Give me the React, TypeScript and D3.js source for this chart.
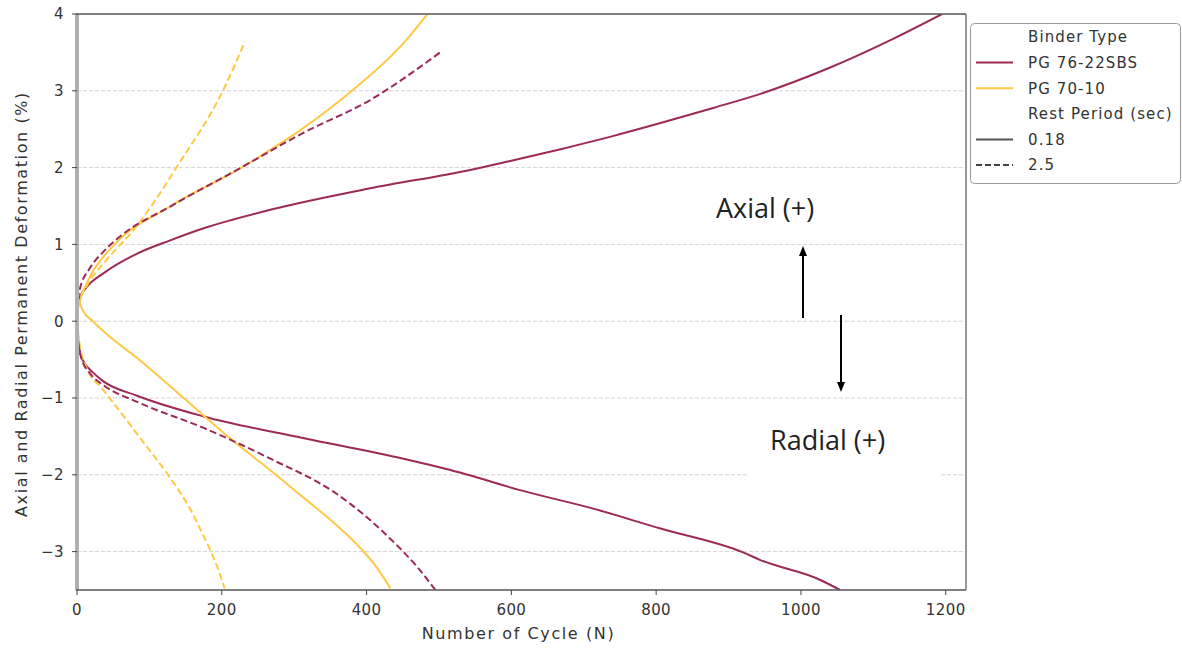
import React from "react";
import * as d3 from "d3";

type P = [number, number];

const maroon = "#9c2a55";
const yellow = "#ffc845";

// PG 76-22SBS, rest 0.18 s
const pg76AxialSolid: P[] = [[0,0],[1,0.15],[4,0.31],[13,0.44],[36,0.62],[83,0.88],[128,1.05],[175,1.21],[267,1.45],[405,1.73],[543,1.97],[600,2.09],[668,2.24],[740,2.41],[806,2.58],[880,2.78],[944,2.96],[1037,3.29],[1128,3.68],[1195,4.0]];
const pg76RadialSolid: P[] = [[0,0],[2,-0.27],[6,-0.46],[13,-0.58],[20,-0.65],[36,-0.78],[83,-0.97],[175,-1.24],[312,-1.52],[451,-1.79],[529,-1.97],[612,-2.2],[713,-2.44],[806,-2.7],[920,-3.01],[944,-3.11],[1027,-3.37],[1054,-3.5]];
// PG 76-22SBS, rest 2.5 s
const pg76AxialDashed: P[] = [[0,0],[1,0.2],[4,0.42],[17,0.68],[36,0.9],[59,1.1],[128,1.49],[221,1.97],[312,2.45],[405,2.88],[503,3.51]];
const pg76RadialDashed: P[] = [[0,0],[2,-0.28],[6,-0.48],[18,-0.68],[36,-0.83],[83,-1.05],[175,-1.39],[267,-1.79],[359,-2.25],[400,-2.55],[440,-2.9],[470,-3.2],[495,-3.5]];
// PG 70-10, rest 0.18 s
const pg70AxialSolid: P[] = [[0,0.05],[2,0.2],[4,0.27],[18,0.58],[50,0.98],[128,1.49],[229,2.01],[312,2.51],[381,3.01],[451,3.62],[485,4.01]];
const pg70RadialSolid: P[] = [[2,0.28],[8,0.14],[22,0.0],[45,-0.2],[83,-0.48],[128,-0.84],[175,-1.23],[221,-1.6],[267,-1.94],[312,-2.29],[359,-2.66],[390,-2.94],[412,-3.18],[433,-3.48]];
// PG 70-10, rest 2.5 s
const pg70AxialDashed: P[] = [[0,0.05],[4,0.27],[13,0.45],[41,0.8],[82,1.23],[110,1.6],[138,2.01],[202,3.01],[232,3.64]];
const pg70RadialDashed: P[] = [[0,0],[4,-0.33],[13,-0.6],[35,-0.88],[59,-1.17],[92,-1.58],[128,-2.03],[156,-2.44],[175,-2.8],[193,-3.18],[204,-3.48]];

const xTicks = [0, 200, 400, 600, 800, 1000, 1200];
const yTicks = [-3, -2, -1, 0, 1, 2, 3, 4];

const series = [
  { data: pg76AxialSolid, color: maroon, dashed: false },
  { data: pg76RadialSolid, color: maroon, dashed: false },
  { data: pg70AxialSolid, color: yellow, dashed: false },
  { data: pg70RadialSolid, color: yellow, dashed: false },
  { data: pg70AxialDashed, color: yellow, dashed: true },
  { data: pg70RadialDashed, color: yellow, dashed: true },
  { data: pg76AxialDashed, color: maroon, dashed: true },
  { data: pg76RadialDashed, color: maroon, dashed: true },
];

const legendItems = [
  { label: "Binder Type", color: null as string | null, dashed: false },
  { label: "PG 76-22SBS", color: maroon, dashed: false },
  { label: "PG 70-10", color: yellow, dashed: false },
  { label: "Rest Period (sec)", color: null, dashed: false },
  { label: "0.18", color: "#555", dashed: false },
  { label: "2.5", color: "#444", dashed: true },
];

export default function App() {
  const W = 1182, H = 649;
  const L = 77, R = 966, T = 14, B = 590;
  const x = d3.scaleLinear().domain([0, 1228]).range([L, R]);
  const y = d3.scaleLinear().domain([-3.5, 4]).range([B, T]);
  const line = d3.line<P>().x(d => x(d[0])).y(d => y(d[1])).curve(d3.curveMonotoneX);
  const font = "DejaVu Sans, sans-serif";
  const fmt = (v: number) => (v < 0 ? "\u2212" + Math.abs(v) : String(v));
  return (
    <svg width={W} height={H} style={{ position: "absolute", left: 0, top: 0, background: "#fff" }}>
      <defs>
        <clipPath id="plot"><rect x={L} y={T} width={R - L} height={B - T} /></clipPath>
        <marker id="ah" viewBox="0 0 10 10" refX="5" refY="5" markerWidth="5" markerHeight="5" orient="auto">
          <path d="M0,1 L10,5 L0,9 z" fill="#000" />
        </marker>
      </defs>
      <rect x={0} y={0} width={W} height={H} fill="#fff" />
      {yTicks.filter(t => t !== 4).map(t => (
        <line key={"g" + t} x1={L} x2={R} y1={y(t)} y2={y(t)} stroke="#d4d4d4" strokeWidth={1} strokeDasharray="4,2" />
      ))}
      <rect x={747} y={405} width={193} height={75} fill="#fff" />
      <g clipPath="url(#plot)">
        {series.map((s, i) => (
          <path key={i} d={(line(s.data) || "")} fill="none" stroke={s.color} strokeWidth={2}
            strokeDasharray={s.dashed ? "7,3.5" : undefined} />
        ))}
      </g>
      {/* spines */}
      <line x1={L} x2={L} y1={T} y2={B} stroke="#b0b0b0" strokeWidth={4} />
      <line x1={L - 1} x2={R} y1={T} y2={T} stroke="#555" strokeWidth={1.5} />
      <line x1={L - 1} x2={R} y1={B} y2={B} stroke="#555" strokeWidth={1.5} />
      <line x1={R} x2={R} y1={T} y2={B} stroke="#777" strokeWidth={1.5} />
      {yTicks.map(t => (
        <g key={"y" + t}>
          <line x1={L - 5} x2={L} y1={y(t)} y2={y(t)} stroke="#444" strokeWidth={1} />
          <text x={L - 13} y={y(t)} dy="0.36em" textAnchor="end" fontSize={15} letterSpacing={0.4} fontFamily={font} fill="#333">{fmt(t)}</text>
        </g>
      ))}
      {xTicks.map(t => (
        <g key={"x" + t}>
          <line x1={x(t)} x2={x(t)} y1={B} y2={B + 5} stroke="#444" strokeWidth={1} />
          <text x={x(t)} y={B + 25} textAnchor="middle" fontSize={15} letterSpacing={0.4} fontFamily={font} fill="#333">{t}</text>
        </g>
      ))}
      <text x={(L + R) / 2 - 3} y={639} textAnchor="middle" fontSize={16} letterSpacing={1.6} fontFamily={font} fill="#333">Number of Cycle (N)</text>
      <text transform={`translate(27,${(T + B) / 2 + 2}) rotate(-90)`} textAnchor="middle" fontSize={16} letterSpacing={1.6} fontFamily={font} fill="#333">Axial and Radial Permanent Deformation (%)</text>
      {/* annotations */}
      <text x={716} y={218} fontSize={27} fontFamily="Open Sans, sans-serif" fill="#222">Axial (+)</text>
      <text x={770} y={450} fontSize={27} fontFamily="Open Sans, sans-serif" fill="#222">Radial (+)</text>
      <line x1={803} x2={803} y1={318} y2={251} stroke="#000" strokeWidth={2} markerEnd="url(#ah)" />
      <line x1={841} x2={841} y1={315} y2={387} stroke="#000" strokeWidth={2} markerEnd="url(#ah)" />
      {/* legend */}
      <rect x={970.5} y={23.5} width={210} height={160} rx={4} fill="#fff" stroke="#999" strokeWidth={1} />
      {legendItems.map((it, i) => {
        const cy = 37 + i * 25.6;
        return (
          <g key={it.label}>
            {it.color && (
              <line x1={976} x2={1013} y1={cy} y2={cy} stroke={it.color} strokeWidth={2}
                strokeDasharray={it.dashed ? "6,3" : undefined} />
            )}
            <text x={1028} y={cy} dy="0.36em" fontSize={15} letterSpacing={1.1} fontFamily={font} fill="#333">{it.label}</text>
          </g>
        );
      })}
    </svg>
  );
}
